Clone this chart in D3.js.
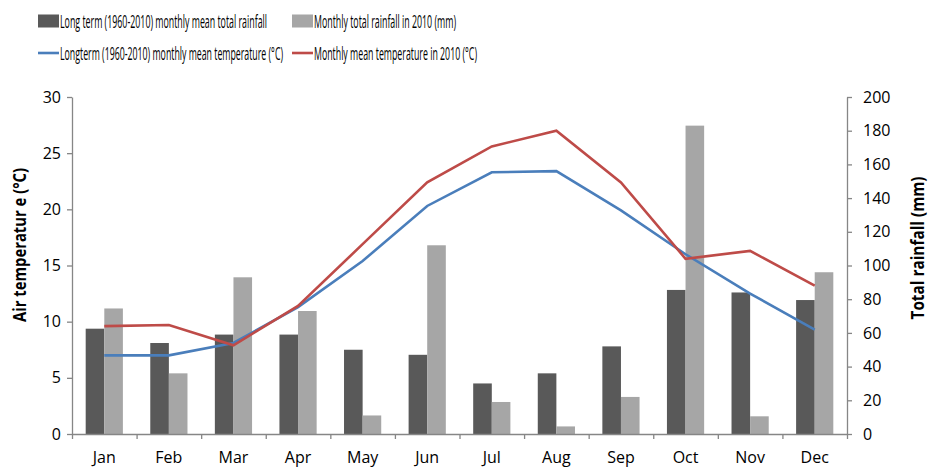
<!DOCTYPE html>
<html>
<head>
<meta charset="utf-8">
<script src="https://cdn.jsdelivr.net/npm/d3@7"></script>
<style>
  body { margin: 0; background: #fff; }
  svg { font-family: "Open Sans", sans-serif; }
  .axis { font-family: "Open Sans", sans-serif; }
  .axis path, .axis line { stroke: #868686; stroke-width: 1.3; }
  .axis text { font-size: 16px; fill: #000; }
</style>
</head>
<body>
<svg id="chart" width="929" height="468"></svg>
<script>
// chart values
var months = ['Jan','Feb','Mar','Apr','May','Jun','Jul','Aug','Sep','Oct','Nov','Dec'];
var rainLong = [62.5, 54, 59, 59, 50, 47, 30, 36, 52, 85.5, 84, 79.5];
var rain2010 = [74.5, 36, 93, 73, 11, 112, 19, 4.5, 22, 183, 10.5, 96];
var tempLong = [7.0, 7.0, 8.1, 11.3, 15.4, 20.3, 23.3, 23.4, 19.9, 16.0, 12.5, 9.3];
var temp2010 = [9.6, 9.7, 7.9, 11.4, 16.9, 22.4, 25.6, 27.0, 22.4, 15.6, 16.3, 13.2];
var tempTicks = [0, 5, 10, 15, 20, 25, 30];
var rainTicks = [0, 20, 40, 60, 80, 100, 120, 140, 160, 180, 200];

var svg = d3.select('#chart');
var plotL = 72, plotR = 847, plotT = 97, plotB = 434;

var x = d3.scaleBand().domain(months).range([plotL, plotR]);
var bw = x.bandwidth();
var barPair = 37.2;
var x1 = d3.scaleBand().domain(['long', 'y2010']).range([(bw - barPair) / 2, (bw + barPair) / 2]);
var yT = d3.scaleLinear().domain([0, 30]).range([plotB, plotT]);
var yR = d3.scaleLinear().domain([0, 200]).range([plotB, plotT]);
var xIdx = d3.scaleLinear().domain([0, 12]).range([plotL, plotR]);

// bars
var rows = months.map(function(m, i) {
  return {m: m, long: rainLong[i], y2010: rain2010[i]};
});
var colors = {long: '#595959', y2010: '#a6a6a6'};
var g = svg.append('g');
rows.forEach(function(d) {
  ['long', 'y2010'].forEach(function(k) {
    g.append('rect')
      .attr('x', x(d.m) + x1(k))
      .attr('y', yR(d[k]))
      .attr('width', x1.bandwidth())
      .attr('height', yR(0) - yR(d[k]))
      .attr('fill', colors[k]);
  });
});

// axes
svg.append('g').attr('class', 'axis')
  .attr('transform', 'translate(' + plotL + ',0)')
  .call(d3.axisLeft(yT).tickValues(tempTicks).tickSize(5).tickSizeOuter(0).tickPadding(6));
svg.append('g').attr('class', 'axis')
  .attr('transform', 'translate(' + plotR + ',0)')
  .call(d3.axisRight(yR).tickValues(rainTicks).tickSize(5).tickSizeOuter(0).tickPadding(11));
svg.append('g').attr('class', 'axis')
  .attr('transform', 'translate(0,' + plotB + ')')
  .call(d3.axisBottom(xIdx).tickValues(d3.range(13)).tickSize(5).tickSizeOuter(0).tickFormat(''));
var xLab = svg.append('g').attr('class', 'axis')
  .attr('transform', 'translate(0,' + plotB + ')')
  .call(d3.axisBottom(x).tickSize(0).tickPadding(18));
xLab.select('.domain').remove();

// lines
var line = d3.line().x(function(d, i) { return x(months[i]) + bw / 2; }).y(function(d) { return yT(d); });
svg.append('path').datum(tempLong).attr('d', line)
  .attr('fill', 'none').attr('stroke', '#4a7ebb').attr('stroke-width', 2.6);
svg.append('path').datum(temp2010).attr('d', line)
  .attr('fill', 'none').attr('stroke', '#be4b48').attr('stroke-width', 2.6);

// axis titles
svg.append('text')
  .attr('transform', 'translate(26,245) rotate(-90)')
  .attr('text-anchor', 'middle').attr('font-size', 18).attr('font-weight', 'bold')
  .attr('textLength', 154).attr('lengthAdjust', 'spacingAndGlyphs')
  .text('Air temperatur e (°C)');
svg.append('text')
  .attr('transform', 'translate(924,248) rotate(-90)')
  .attr('text-anchor', 'middle').attr('font-size', 17).attr('font-weight', 'bold')
  .attr('textLength', 143).attr('lengthAdjust', 'spacingAndGlyphs')
  .text('Total rainfall (mm)');

// legend
var legend = [
  {type: 'bar', color: '#595959', x: 38, y: 21, len: 207, label: 'Long term (1960-2010) monthly mean total rainfall'},
  {type: 'bar', color: '#a6a6a6', x: 292, y: 21, len: 142, label: 'Monthly total rainfall in 2010 (mm)'},
  {type: 'line', color: '#4a7ebb', x: 38, y: 53, len: 223, label: 'Longterm (1960-2010) monthly mean temperature (°C)'},
  {type: 'line', color: '#be4b48', x: 292, y: 53, len: 163, label: 'Monthly mean temperature in 2010 (°C)'}
];
legend.forEach(function(l) {
  if (l.type === 'bar') {
    svg.append('rect').attr('x', l.x).attr('y', l.y - 6.5).attr('width', 21).attr('height', 13).attr('fill', l.color);
  } else {
    svg.append('line').attr('x1', l.x).attr('x2', l.x + 21).attr('y1', l.y).attr('y2', l.y)
      .attr('stroke', l.color).attr('stroke-width', 2.6);
  }
  svg.append('text').attr('x', l.x + 22).attr('y', l.y + 6.5)
    .attr('font-size', 19).attr('textLength', l.len).attr('lengthAdjust', 'spacingAndGlyphs')
    .text(l.label);
});
</script>
</body>
</html>
